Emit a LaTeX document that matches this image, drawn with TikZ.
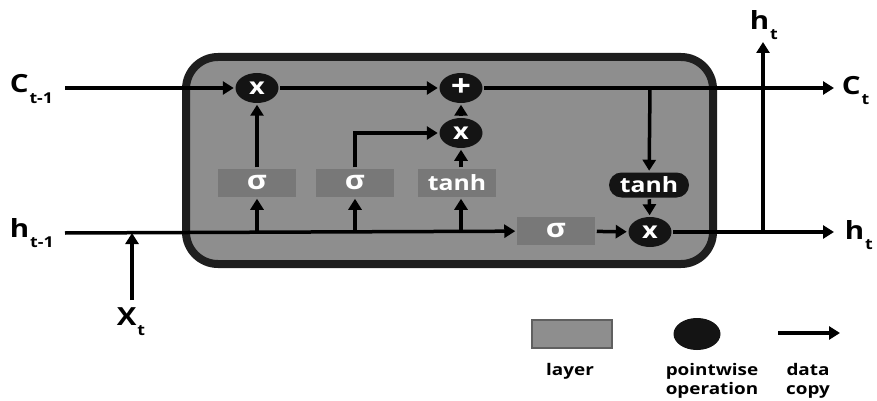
\documentclass[tikz,border=0pt]{standalone}
\usepackage{fontspec}
\setmainfont{Open Sans}[FakeStretch=1.18]
\usetikzlibrary{arrows.meta,shapes.geometric}
\definecolor{boxgray}{HTML}{8E8E8E}
\definecolor{layergray}{HTML}{787878}
\definecolor{bordergray}{HTML}{1E1E1E}
\definecolor{pwblack}{HTML}{141414}
\newcommand{\subsc}[1]{\kern1pt\raisebox{-10pt}{\fontsize{15}{15}\selectfont #1}}
\begin{document}
\begin{tikzpicture}[x=1pt,y=-1pt,
  line width=3.5pt,
  arr/.style={-{Triangle[length=11pt,width=13pt]}},
  layerbox/.style={rectangle, fill=layergray, minimum width=78pt, minimum height=28pt, inner sep=0pt, text=white, font=\bfseries\fontsize{21}{21}\selectfont},
  sig/.style={font=\bfseries\fontsize{26}{26}\selectfont},
  pw/.style={ellipse, fill=pwblack, minimum width=43pt, minimum height=30pt, inner sep=0pt, text=white, font=\bfseries\fontsize{23}{23}\selectfont},
  pwbox/.style={rectangle, rounded corners=12.5pt, fill=pwblack, minimum width=80pt, minimum height=25pt, inner sep=0pt, text=white, font=\bfseries\fontsize{21}{21}\selectfont},
  lab/.style={anchor=base west, inner sep=0pt, font=\bfseries\fontsize{25}{25}\selectfont},
  legtext/.style={anchor=north, inner sep=0pt, align=center, font=\bfseries\fontsize{16}{18.5}\selectfont}
]
\useasboundingbox (0,0) rectangle (877,401);
% cell
\draw[line width=8pt, draw=bordergray, fill=boxgray, rounded corners=32pt] (186,57) rectangle (713,264);
% labels
\node[lab] (lc1) at (8,93) {C\subsc{t-1}};
\node[lab] (lh1) at (8,237) {h\subsc{t-1}};
\node[lab] (lx) at (115,325) {X\subsc{t}};
\node[lab] (lct) at (840,95) {C\subsc{t}};
\node[lab] (lht) at (843,239) {h\subsc{t}};
\node[lab] (lhtop) at (748,30) {h\subsc{t}};
% nodes
\node[pw] (f) at (257,88) {x};
\node[pw, font=\bfseries\fontsize{30}{30}\selectfont] (add) at (461,88) {+};
\node[pw] (im) at (461,133) {x};
\node[layerbox, sig] (s1) at (257,183) {σ};
\node[layerbox, sig] (s2) at (355,183) {σ};
\node[layerbox] (th) at (457,183) {tanh};
\node[layerbox, sig] (s3) at (556,231) {σ};
\node[pwbox] (th2) at (649,185) {tanh};
\node[pw] (om) at (650,232) {x};
% coordinates
\coordinate (cin) at (65,88);
\coordinate (cout) at (834,88);
\coordinate (hin) at (65,233);
\coordinate (hout) at (834,232);
\coordinate (cb) at (650,88);
\coordinate (j1) at (257,233);
\coordinate (j2) at (355,233);
\coordinate (j3) at (461,233);
\coordinate (xin) at (132,300);
\coordinate (jx) at (132,233);
\coordinate (jh) at (763,232);
\coordinate (htop) at (763,42);
% connectors
\draw[arr] (cin) -- (f);
\draw[arr] (f) -- (add);
\draw[arr] (add) -- (cout);
\draw[arr] (cb) -- (th2);
\draw[arr] (th2) -- (om);
\draw[arr] (im) -- (add);
\draw[arr] (th.north -| im) -- (im);
\draw[arr] (s1) -- (f);
\draw[arr] (s2.north) |- (im.west);
\draw[arr] (hin) -- (s3);
\draw[arr] (j1) -- (s1);
\draw[arr] (j2) -- (s2);
\draw[arr] (j3) -- (th.south -| j3);
\draw[arr] (xin) -- (jx);
\draw[arr] (s3) -- (om);
\draw[arr] (om) -- (hout);
\draw[arr] (jh) -- (htop);
% legend
\node[rectangle, fill=boxgray, draw=layergray!80!black, line width=1.5pt, minimum width=80pt, minimum height=28pt] (leg1) at (572,334) {};
\node[ellipse, fill=pwblack, minimum width=47pt, minimum height=32pt, inner sep=0pt] (leg2) at (697,334) {};
\coordinate (la) at (778,333);
\coordinate (lb) at (840,333);
\draw[arr] (la) -- (lb);
\node[legtext] (t1) at (570,362) {layer};
\node[legtext] (t2) at (712,362) {pointwise\\operation};
\node[legtext] (t3) at (808,362) {data\\copy};
\end{tikzpicture}
\end{document}
